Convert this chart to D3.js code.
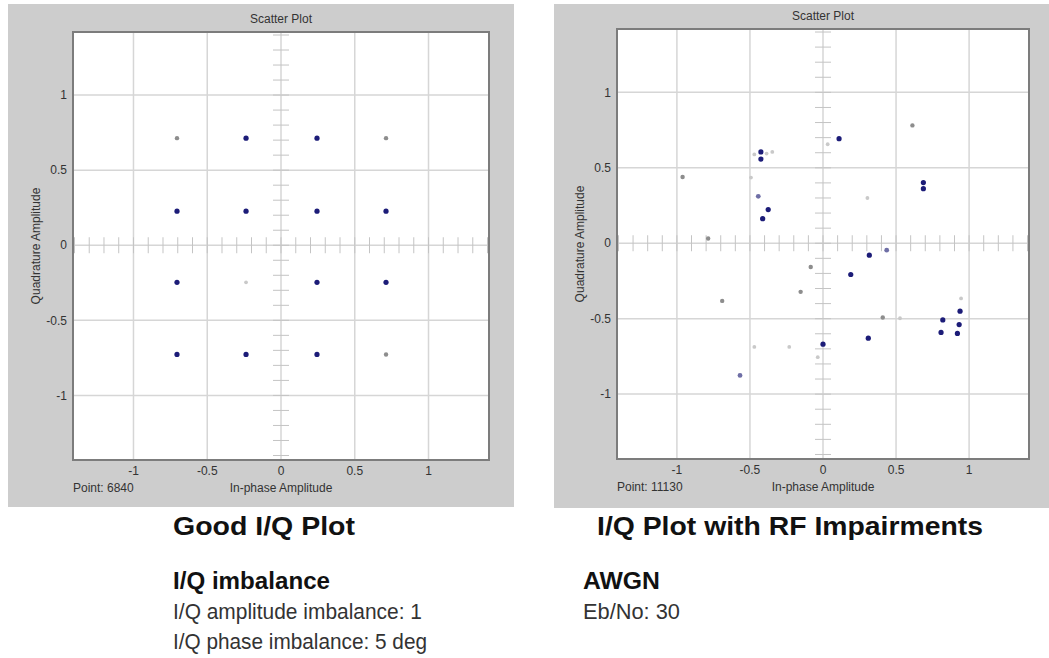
<!DOCTYPE html>
<html>
<head>
<meta charset="utf-8">
<script src="https://cdn.jsdelivr.net/npm/d3@7"></script>
<style>
    body { margin: 0; background: #fff; }
    svg { display: block; font-family: "Liberation Sans", Arial, sans-serif; }
    .grid { stroke: #d6d6d6; stroke-width: 1.5; }
    .minor { stroke: #c4c4c4; stroke-width: 1; }
    .lbl { font-size: 12px; fill: #333; }
</style>
</head>
<body>
<svg id="chart" width="1049" height="658"></svg>
<script>
'use strict';

var tickValues = [-1, -0.5, 0, 0.5, 1];
var tickLabels = ['-1', '-0.5', '0', '0.5', '1'];

// good constellation, split by persistence (newest symbols are darkest)
var goodNew = [[-0.705, 0.227], [-0.237, 0.713], [-0.237, 0.227], [0.244, 0.713], [0.244, 0.227],
    [0.712, 0.227], [-0.705, -0.247], [0.244, -0.247], [0.712, -0.247], [-0.705, -0.727],
    [-0.237, -0.727], [0.244, -0.727]];
var goodMid = [];
var goodOld = [[-0.705, 0.713], [0.712, 0.713], [0.712, -0.727]];
var goodFaded = [[-0.237, -0.247]];

// impaired constellation
var rfNew = [[-0.425, 0.605], [-0.425, 0.558], [-0.375, 0.223], [-0.413, 0.163], [0.11, 0.693],
    [0.687, 0.402], [0.687, 0.362], [0.317, -0.079], [0.19, -0.207], [0.82, -0.508],
    [0.808, -0.591], [0.938, -0.45], [0.932, -0.539], [0.92, -0.598], [0.31, -0.629], [0.0, -0.669]];
var rfMid = [[-0.443, 0.311], [0.436, -0.046], [-0.568, -0.876]];
var rfOld = [[-0.961, 0.439], [-0.786, 0.031], [0.612, 0.781], [-0.084, -0.157], [-0.153, -0.322],
    [-0.69, -0.382], [0.409, -0.492]];
var rfFaded = [[-0.493, 0.435], [-0.47, 0.589], [-0.386, 0.594], [-0.347, 0.605], [0.032, 0.656],
    [0.304, 0.3], [0.527, -0.497], [-0.231, -0.687], [-0.47, -0.687], [0.945, -0.366], [-0.036, -0.755]];

var panels = [
    {
        box: {x: 8, y: 4, w: 506, h: 503},
        plot: {left: 73, right: 489, top: 32, bottom: 460},
        point: 'Point: 6840',
        series: [goodFaded, goodOld, goodMid, goodNew]
    },
    {
        box: {x: 554, y: 4, w: 495, h: 504},
        plot: {left: 617, right: 1029, top: 29, bottom: 459},
        point: 'Point: 11130',
        series: [rfFaded, rfOld, rfMid, rfNew]
    }
];

var dotStyle = [
    {fill: '#c9c9c9', r: 1.9},
    {fill: '#8d8d8d', r: 2.2},
    {fill: '#6f6fa6', r: 2.4},
    {fill: '#1c1c78', r: 2.6}
];

var svg = d3.select('#chart');

var drawPanel = function (p) {
    var x = d3.scaleLinear().domain([-1.41, 1.41]).range([p.plot.left, p.plot.right]);
    var y = d3.scaleLinear().domain([-1.43, 1.42]).range([p.plot.bottom, p.plot.top]);
    var g = svg.append('g');
    var cx = (p.plot.left + p.plot.right) / 2;

    g.append('rect')
        .attr('x', p.box.x).attr('y', p.box.y)
        .attr('width', p.box.w).attr('height', p.box.h)
        .attr('fill', '#cdcdcd');

    g.append('rect')
        .attr('x', p.plot.left).attr('y', p.plot.top)
        .attr('width', p.plot.right - p.plot.left)
        .attr('height', p.plot.bottom - p.plot.top)
        .attr('fill', '#fff');

    //grid
    g.selectAll('line.gx').data(tickValues).enter().append('line')
        .attr('class', 'grid')
        .attr('x1', x).attr('x2', x)
        .attr('y1', p.plot.top).attr('y2', p.plot.bottom);
    g.selectAll('line.gy').data(tickValues).enter().append('line')
        .attr('class', 'grid')
        .attr('y1', y).attr('y2', y)
        .attr('x1', p.plot.left).attr('x2', p.plot.right);

    // small ticks along the zero lines every 0.1
    var minor = d3.range(-14, 15).map(function (k) { return k / 10; });
    g.selectAll('line.mx').data(minor).enter().append('line')
        .attr('class', 'minor')
        .attr('x1', x).attr('x2', x)
        .attr('y1', y(0) - 8).attr('y2', y(0) + 8);
    g.selectAll('line.my').data(minor).enter().append('line')
        .attr('class', 'minor')
        .attr('y1', y).attr('y2', y)
        .attr('x1', x(0) - 8).attr('x2', x(0) + 8);

    g.append('rect')
        .attr('x', p.plot.left).attr('y', p.plot.top)
        .attr('width', p.plot.right - p.plot.left)
        .attr('height', p.plot.bottom - p.plot.top)
        .attr('fill', 'none')
        .attr('stroke', '#7c7c7c')
        .attr('stroke-width', 2);

    p.series.forEach(function (pts, i) {
        g.selectAll(null).data(pts).enter().append('circle')
            .attr('cx', function (d) { return x(d[0]); })
            .attr('cy', function (d) { return y(d[1]); })
            .attr('r', dotStyle[i].r)
            .attr('fill', dotStyle[i].fill);
    });

    g.selectAll('text.xt').data(tickValues).enter().append('text')
        .attr('class', 'lbl')
        .attr('x', x).attr('y', p.plot.bottom + 15)
        .attr('text-anchor', 'middle')
        .text(function (d, i) { return tickLabels[i]; });
    g.selectAll('text.yt').data(tickValues).enter().append('text')
        .attr('class', 'lbl')
        .attr('x', p.plot.left - 6).attr('y', y)
        .attr('dy', '0.35em')
        .attr('text-anchor', 'end')
        .text(function (d, i) { return tickLabels[i]; });

    g.append('text').attr('class', 'lbl')
        .attr('x', cx).attr('y', p.plot.top - 9)
        .attr('text-anchor', 'middle')
        .text('Scatter Plot');
    g.append('text').attr('class', 'lbl')
        .attr('x', cx).attr('y', p.plot.bottom + 32)
        .attr('text-anchor', 'middle')
        .text('In-phase Amplitude');
    g.append('text').attr('class', 'lbl')
        .attr('x', p.plot.left).attr('y', p.plot.bottom + 32)
        .text(p.point);
    g.append('text').attr('class', 'lbl')
        .attr('transform', 'translate(' + (p.plot.left - 33) + ',' + ((p.plot.top + p.plot.bottom) / 2) + ') rotate(-90)')
        .attr('text-anchor', 'middle')
        .text('Quadrature Amplitude');
};

panels.forEach(drawPanel);

// captions under the plots (width = measured span in the source picture)
var captions = [
    {x: 173, y: 535, w: 182, size: 25, text: 'Good I/Q Plot', bold: true},
    {x: 597, y: 535, w: 386, size: 25, text: 'I/Q Plot with RF Impairments', bold: true},
    {x: 173, y: 589, w: 157, size: 24, text: 'I/Q imbalance', bold: true},
    {x: 173, y: 619, w: 249, size: 22, text: 'I/Q amplitude imbalance: 1', bold: false},
    {x: 173, y: 649, w: 254, size: 22, text: 'I/Q phase imbalance: 5 deg', bold: false},
    {x: 583, y: 589, w: 77, size: 24, text: 'AWGN', bold: true},
    {x: 583, y: 619, w: 97, size: 22, text: 'Eb/No: 30', bold: false}
];

svg.selectAll('text.cap').data(captions).enter().append('text')
    .attr('class', 'cap')
    .attr('x', function (c) { return c.x; })
    .attr('y', function (c) { return c.y; })
    .attr('font-size', function (c) { return c.size + 'px'; })
    .attr('font-weight', function (c) { return c.bold ? 'bold' : 'normal'; })
    .attr('fill', function (c) { return c.bold ? '#111' : '#333'; })
    .attr('textLength', function (c) { return c.w; })
    .attr('lengthAdjust', 'spacingAndGlyphs')
    .text(function (c) { return c.text; });
</script>
</body>
</html>
